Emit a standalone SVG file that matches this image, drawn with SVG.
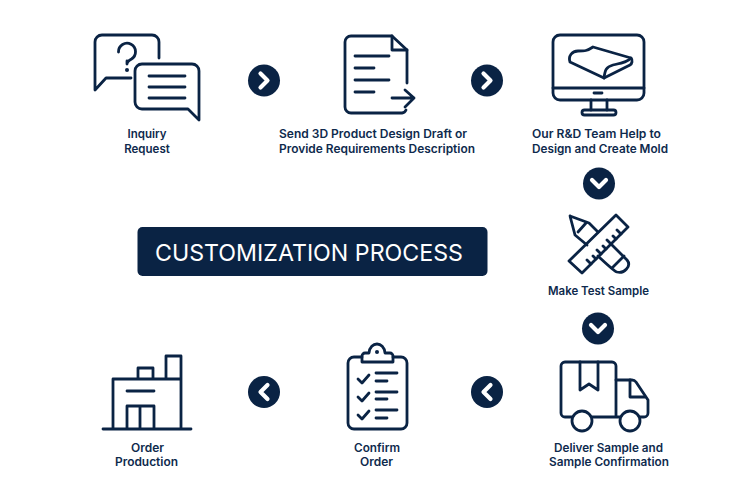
<svg xmlns="http://www.w3.org/2000/svg" width="751" height="501" viewBox="0 0 751 501">
<style>
.i{fill:none;stroke:#0a2344;stroke-width:2.8;stroke-linecap:round;stroke-linejoin:round}
.t{font-family:"Inter","Noto Sans","Liberation Sans",sans-serif;font-weight:600;font-size:11.5px;fill:#0e2a4d}
.c{fill:#0a2344}
.h{fill:none;stroke:#fff;stroke-width:4.2;stroke-linecap:round;stroke-linejoin:round}
</style>
<defs>
<g id="chev"><circle class="c" r="16"/><path class="h" d="M-3.5,-7 L3.5,0 L-3.5,7"/></g>
</defs>
<rect width="751" height="501" fill="#fff"/>
<g id="connectors">
<use href="#chev" x="264" y="80.500"/>
<use href="#chev" x="487" y="80.500"/>
<use href="#chev" transform="translate(599 183.500) rotate(90)"/>
<use href="#chev" transform="translate(598 328.500) rotate(90)"/>
<use href="#chev" transform="translate(487 392) rotate(180)"/>
<use href="#chev" transform="translate(264 392) rotate(180)"/>
</g>
<g id="title">
<rect x="137.500" y="227" width="350" height="49" rx="5" fill="#0a2344"/>
<text x="155" y="260.500" textLength="308" lengthAdjust="spacingAndGlyphs" style="font-family:'Inter','Noto Sans',sans-serif;font-size:23.500px;fill:#fff">CUSTOMIZATION PROCESS</text>
</g>
<g id="inquiry">
<path class="i" d="M159,58 V42 a7,7 0 0 0 -7,-7 H102 a7,7 0 0 0 -7,7 V90 L106,78 H131"/>
<path class="i" d="M118.500,52 a8.500,8.500 0 1 1 13,7 q-4.500,2.500 -4.500,5 V61"/>
<circle class="c" cx="127" cy="70" r="2"/>
<path class="i" d="M142,64 H192 a7,7 0 0 1 7,7 V120 L188,109 H142 a7,7 0 0 1 -7,-7 V71 a7,7 0 0 1 7,-7 Z"/>
<path class="i" d="M149,76 H185 M149,87 H185 M149,98 H185"/>
<text class="t" x="147" y="138" text-anchor="middle">Inquiry</text>
<text class="t" x="147" y="153" text-anchor="middle">Request</text>
</g>
<g id="design-draft">
<path class="i" d="M407,83 V50 L392,36 H351 a6,6 0 0 0 -6,6 V107 a6,6 0 0 0 6,6 H402 a5,5 0 0 0 4,-3"/>
<path class="i" d="M392,36 V50 H407"/>
<path class="i" d="M355,56 H389 M355,68 H374 M355,80 H389 M355,92 H374"/>
<path class="i" d="M392,98 H414 M405,90 L414,98 L405,107"/>
<text class="t" x="279" y="138" textLength="188" lengthAdjust="spacingAndGlyphs">Send 3D Product Design Draft or</text>
<text class="t" x="279" y="153" textLength="196" lengthAdjust="spacingAndGlyphs">Provide Requirements Description</text>
</g>
<g id="mold">
<rect class="i" x="553" y="35" width="91" height="65" rx="7"/>
<path class="i" d="M553,88 H644 M594,93 H602 M591,100 V110 M607,100 V110"/>
<rect class="i" x="582" y="110" width="34" height="5" rx="2.500"/>
<path class="i" d="M570,62 C568,56 572,51 578,51 C585,51 587,51 593,47 L631,58 C633,60 632,64 630,65 L604,78 Z"/>
<path class="i" d="M604,78 C605,70 606,67 613,65 C622,63 628,62 631,58"/>
<text class="t" x="532" y="138" textLength="129" lengthAdjust="spacingAndGlyphs">Our R&amp;D Team Help to</text>
<text class="t" x="532" y="153" textLength="136" lengthAdjust="spacingAndGlyphs">Design and Create Mold</text>
</g>
<g id="test-sample">
<path class="i" d="M616,215 L628,227 L582,273 L569,261 Z"/>
<path class="i" d="M621,234 l-4,-4 M616,239 l-3,-3 M611,244 l-4,-4 M606,249 l-3,-3 M601,254 l-4,-4 M596,259 l-3,-3 M591,264 l-4,-4"/>
<path class="i" d="M570,216 L589,223 L598,232 M570,216 L575,235 L587,245 M578,232 L586,223"/>
<path class="i" d="M612,245 L627,260 C632,266 624,274 617,272 C614,271 612,269 598,256 M624,256 L612,268"/>
<text class="t" x="548" y="295" textLength="101" lengthAdjust="spacingAndGlyphs">Make Test Sample</text>
</g>
<g id="deliver">
<path class="i" d="M572,417 H565 a4,4 0 0 1 -4,-4 V366 a4,4 0 0 1 4,-4 H612 a4,4 0 0 1 4,4 V417 M592,417 H620"/>
<path class="i" d="M580,362 V390 L589,384 L598,390 V362"/>
<path class="i" d="M616,380 H632 a5,5 0 0 1 4,2 L648,400 V413 a4,4 0 0 1 -4,4 H640"/>
<path class="i" d="M630,380 V397 H645"/>
<circle class="i" cx="582" cy="421" r="10"/>
<circle class="i" cx="630" cy="421" r="10"/>
<text class="t" x="554" y="452" textLength="109" lengthAdjust="spacingAndGlyphs">Deliver Sample and</text>
<text class="t" x="549" y="466" textLength="120" lengthAdjust="spacingAndGlyphs">Sample Confirmation</text>
</g>
<g id="confirm">
<path class="i" d="M362,357 H354 a6,6 0 0 0 -6,6 V423 a6,6 0 0 0 6,6 H401 a6,6 0 0 0 6,-6 V363 a6,6 0 0 0 -6,-6 H393"/>
<path class="i" d="M362,362 H393 V356 a3,3 0 0 0 -3,-3 H385 C384,341 370,341 369,353 H365 a3,3 0 0 0 -3,3 Z"/>
<circle class="c" cx="377" cy="352" r="2"/>
<path class="i" d="M358,379 L362,383 L369,375 M376,373 H397 M376,381 H387"/>
<path class="i" d="M358,397 L362,401 L369,393 M376,392 H397 M376,399 H387"/>
<path class="i" d="M358,415 L362,419 L369,411 M376,410 H397 M376,418 H387"/>
<text class="t" x="354" y="452" textLength="46" lengthAdjust="spacingAndGlyphs">Confirm</text>
<text class="t" x="360" y="466" textLength="33" lengthAdjust="spacingAndGlyphs">Order</text>
</g>
<g id="production">
<path class="i" d="M103,429 H191 M113,429 V379 H181 V429 M138,379 V368 H153 V379 M166,379 V356 H181 V379 M127,391 H154 M127,429 V406 H154 V429 M140,406 V429"/>
<text class="t" x="131" y="452" textLength="33" lengthAdjust="spacingAndGlyphs">Order</text>
<text class="t" x="115" y="466" textLength="63" lengthAdjust="spacingAndGlyphs">Production</text>
</g>
</svg>
